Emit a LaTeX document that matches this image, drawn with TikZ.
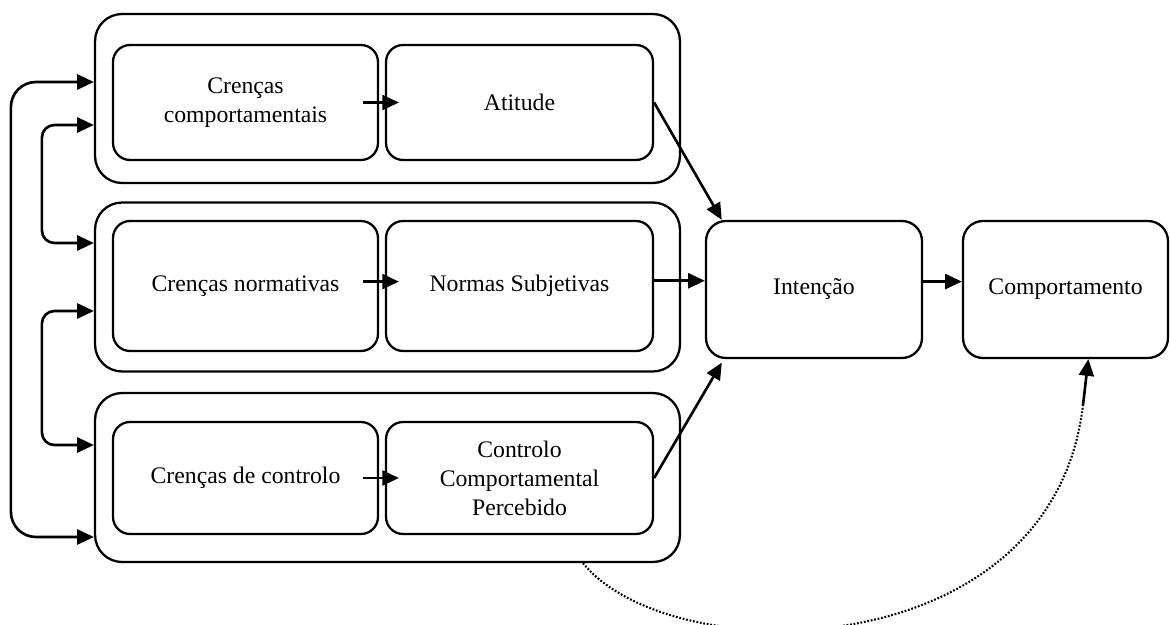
\documentclass[tikz,border=0pt]{standalone}
\usepackage{fontspec}
\setmainfont{Liberation Serif}
\newfontfamily\diagfont{Liberation Serif}
\usetikzlibrary{arrows.meta,calc}

\begin{document}
\begin{tikzpicture}[x=0.02cm, y=-0.02cm,
  every node/.style={font=\diagfont\fontsize{13.5}{16.5}\selectfont, line width=1.3pt, align=center},
  outerbox/.style={draw, rounded corners=0.54cm, minimum width=11.7cm, minimum height=3.38cm},
  innerbox/.style={draw, rounded corners=0.34cm},
  mainbox/.style={draw, rounded corners=0.4cm, minimum height=2.74cm},
  arr/.style={-{Triangle[length=9.5pt,width=8.5pt]}, line width=1.5pt},
  dblarr/.style={{Triangle[length=9.5pt,width=8.5pt]}-{Triangle[length=9.5pt,width=8.5pt]}, line width=1.5pt}]
\useasboundingbox (0,0) rectangle (1170,625);

\node[outerbox] (outA) at (387.5,98.5) {};
\node[outerbox] (outB) at (387.5,287) {};
\node[outerbox] (outC) at (387.5,477.5) {};

\node[innerbox, minimum width=5.3cm, minimum height=2.3cm] (crencasComp) at (245.5,102.5) {Crenças\\comportamentais};
\node[innerbox, minimum width=5.34cm, minimum height=2.3cm] (atitude) at (519.5,102.5) {Atitude};
\node[innerbox, minimum width=5.3cm, minimum height=2.6cm] (crencasNorm) at (245.5,286) {Crenças normativas};
\node[innerbox, minimum width=5.34cm, minimum height=2.6cm] (normas) at (519.5,286) {Normas Subjetivas};
\node[innerbox, minimum width=5.3cm, minimum height=2.24cm] (crencasCtrl) at (245.5,478) {Crenças de controlo};
\node[innerbox, minimum width=5.34cm, minimum height=2.24cm] (controlo) at (519.5,478) {Controlo\\Comportamental\\Percebido};

\node[mainbox, minimum width=4.32cm] (intencao) at (814,289.5) {Intenção};
\node[mainbox, minimum width=4.1cm] (comport) at (1065.5,289.5) {Comportamento};

\draw[arr] ([xshift=-9pt]crencasComp.east) -- ([xshift=8pt]atitude.west);
\draw[arr] ([xshift=-9pt,yshift=2.5pt]crencasNorm.east) -- ([xshift=8pt,yshift=2.5pt]normas.west);
\draw[arr] ([xshift=-9pt]crencasCtrl.east) -- ([xshift=8pt]controlo.west);

\draw[arr] (atitude.east) -- ([xshift=9.6pt]intencao.north west);
\draw[arr] ([yshift=3pt]normas.east) -- ([yshift=3pt]normas.east -| intencao.west);
\draw[arr] (controlo.east) -- ([xshift=9.6pt,yshift=-2pt]intencao.south west);
\draw[arr] ([yshift=4.5pt]intencao.east) -- ([yshift=4.5pt]comport.west);

\draw[dblarr, rounded corners=0.5cm] ($(outA.west)+(0,-16.5)$) -- ++(-83,0) |- ($(outC.west)+(0,59.5)$);
\draw[dblarr, rounded corners=0.25cm] ($(outA.west)+(0,26.5)$) -- ++(-52,0) |- ($(outB.west)+(0,-44)$);
\draw[dblarr, rounded corners=0.25cm] ($(outB.west)+(0,24)$) -- ++(-52,0) |- ($(outC.west)+(0,-32.5)$);

\coordinate (dotEnd) at (1083,405);
\draw[line width=1.2pt, dash pattern=on 1pt off 1pt] ($(outC.south)+(195.5,0)$) .. controls +(87,108) and +(-31,265) .. (dotEnd);
\draw[arr] (dotEnd) -- ([xshift=13pt]comport.south);
\end{tikzpicture}
\end{document}
